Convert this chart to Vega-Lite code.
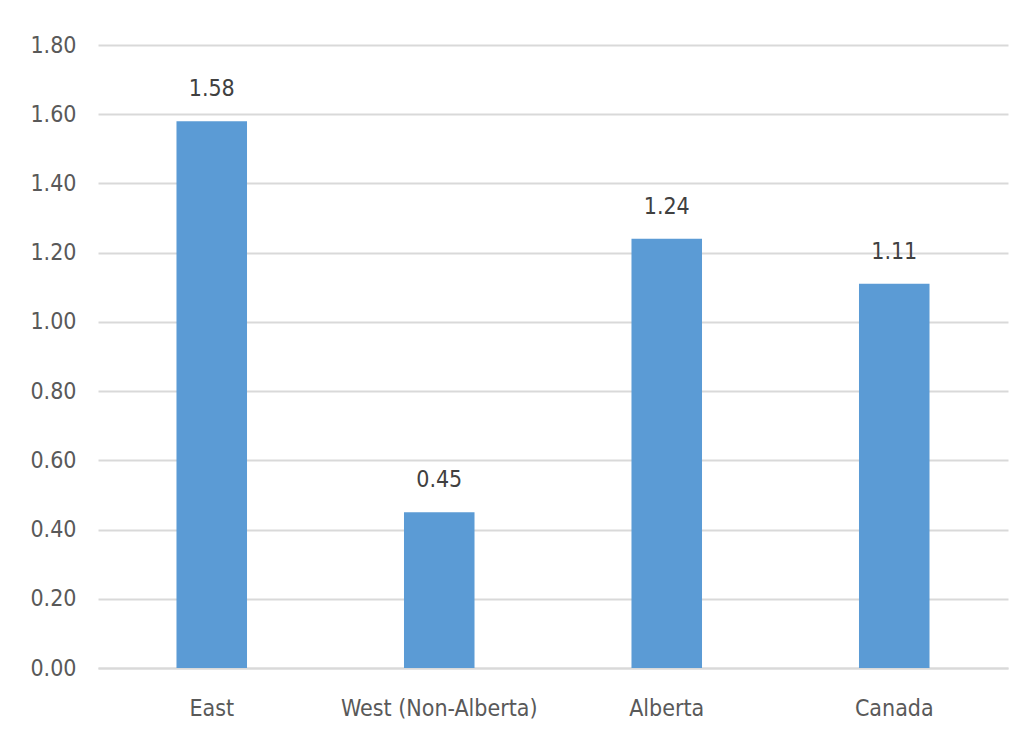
{
  "$schema": "https://vega.github.io/schema/vega-lite/v6.json",
  "width": 910,
  "height": 623,
  "padding": {"left": 98, "top": 45, "right": 21, "bottom": 78},
  "autosize": {"type": "none"},
  "background": "white",
  "config": {
    "view": {"stroke": null},
    "font": "DejaVu Sans Condensed, Liberation Sans Narrow, Roboto Condensed, Roboto, sans-serif"
  },
  "data": {
    "values": [
      {"region": "East", "value": 1.58},
      {"region": "West (Non-Alberta)", "value": 0.45},
      {"region": "Alberta", "value": 1.24},
      {"region": "Canada", "value": 1.11}
    ]
  },
  "encoding": {
    "x": {
      "field": "region",
      "type": "nominal",
      "sort": null,
      "scale": {"paddingInner": 0.69, "paddingOuter": 0.345},
      "axis": {
        "title": null,
        "labelAngle": 0,
        "labelFontSize": 23,
        "labelColor": "#595959",
        "labelPadding": 29,
        "labelLimit": 400,
        "ticks": false,
        "domainColor": "#D9D9D9",
        "domainWidth": 2
      }
    },
    "y": {
      "field": "value",
      "type": "quantitative",
      "scale": {"domain": [0, 1.8]},
      "axis": {
        "title": null,
        "values": [0, 0.2, 0.4, 0.6, 0.8, 1.0, 1.2, 1.4, 1.6, 1.8],
        "format": ".2f",
        "labelFontSize": 23,
        "labelColor": "#595959",
        "labelPadding": 22,
        "ticks": false,
        "domain": false,
        "gridColor": "#D9D9D9",
        "gridWidth": 2
      }
    }
  },
  "layer": [
    {"mark": {"type": "bar", "color": "#5B9BD5"}},
    {
      "mark": {"type": "text", "baseline": "bottom", "dy": -20, "fontSize": 23, "color": "#404040"},
      "encoding": {"text": {"field": "value", "type": "quantitative", "format": ".2f"}}
    }
  ]
}
